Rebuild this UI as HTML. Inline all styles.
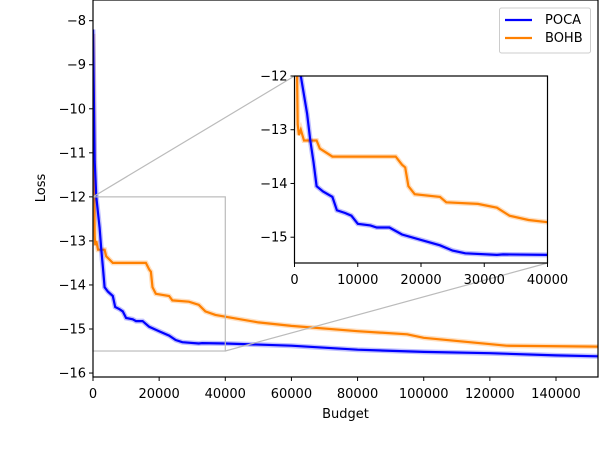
<!DOCTYPE html>
<html><head><meta charset="utf-8"><style>
body{margin:0;background:#fff;width:614px;height:454px;overflow:hidden}
svg text{font-family:"DejaVu Sans","Liberation Sans",sans-serif;font-size:13px;fill:#000}
</style></head><body>
<svg id="c" width="614" height="454"></svg>
<script>
const pocaX=[0,500,1000,2000,2500,3000,3500,4500,6000,6700,8000,9000,10000,12000,13000,15000,17000,20000,23000,25000,27000,32000,33000,40000,60000,80000,100000,120000,140000,152700];
const pocaY=[-8.2,-11.2,-12,-12.7,-13.2,-13.6,-14.05,-14.15,-14.25,-14.5,-14.55,-14.6,-14.75,-14.78,-14.82,-14.82,-14.95,-15.05,-15.15,-15.25,-15.3,-15.33,-15.32,-15.33,-15.38,-15.47,-15.52,-15.55,-15.6,-15.62];
const bohbX=[0,300,500,700,1000,1500,3500,4000,6000,16000,17000,17500,18000,19000,23000,24000,29000,32000,34000,37000,40000,50000,60000,80000,95000,100000,125000,152700];
const bohbY=[-8.3,-11,-12.9,-13.1,-13.0,-13.2,-13.2,-13.35,-13.5,-13.5,-13.65,-13.7,-14.05,-14.2,-14.25,-14.35,-14.38,-14.45,-14.6,-14.68,-14.72,-14.85,-14.93,-15.05,-15.12,-15.2,-15.38,-15.4];
const mainXTicks=[0,20000,40000,60000,80000,100000,120000,140000];
const mainYTicks=[-8,-9,-10,-11,-12,-13,-14,-15,-16];
const insetXTicks=[0,10000,20000,30000,40000];
const insetYTicks=[-12,-13,-14,-15];
const NS="http://www.w3.org/2000/svg",svg=document.getElementById('c');
function el(t,a,p){const e=document.createElementNS(NS,t);for(const k in a)e.setAttribute(k,a[k]);(p||svg).appendChild(e);return e;}
const M={x0:93,x1:598,y0:0,y1:377,xmin:0,xmax:152700,ymin:-16.09,ymax:-7.53};
const I={x0:294.5,x1:547.5,y0:76,y1:263,xmin:0,xmax:40000,ymin:-15.48,ymax:-12};
function sx(a,v){return a.x0+(v-a.xmin)/(a.xmax-a.xmin)*(a.x1-a.x0);}
function sy(a,v){return a.y1-(v-a.ymin)/(a.ymax-a.ymin)*(a.y1-a.y0);}
const defs=el('defs',{});
function clip(id,a){const c=el('clipPath',{id},defs);el('rect',{x:a.x0,y:a.y0,width:a.x1-a.x0,height:a.y1-a.y0},c);}
clip('cm',M);clip('ci',I);
function series(a,xs,ys,col,name,cid){
  let pts=xs.map((x,i)=>sx(a,x).toFixed(1)+','+sy(a,ys[i]).toFixed(1)).join(' ');
  const b=el('polyline',{points:pts,fill:'none',stroke:col,'stroke-opacity':0.25,'stroke-width':5,'clip-path':'url(#'+cid+')'});
  
  
  const l=el('polyline',{points:pts,fill:'none',stroke:col,'stroke-width':2.2,'clip-path':'url(#'+cid+')'});
  
  
}
function axes(a,xt,yt,pre){
  xt.forEach(t=>{const x=sx(a,t);el('line',{x1:x,x2:x,y1:a.y1,y2:a.y1+4,stroke:'#000'});
    const tx=el('text',{x:x,y:a.y1+21,'text-anchor':'middle'});tx.textContent=t;
    });
  yt.forEach(t=>{const y=sy(a,t);el('line',{x1:a.x0-4,x2:a.x0,y1:y,y2:y,stroke:'#000'});
    const tx=el('text',{x:a.x0-7,y:y+4.5,'text-anchor':'end'});tx.textContent='\u2212'+Math.abs(t);
    });
}
axes(M,mainXTicks,mainYTicks,'main');
series(M,bohbX,bohbY,'#ff8000','bohb','cm');
series(M,pocaX,pocaY,'#0000ff','poca','cm');
const zr=el('rect',{x:sx(M,0),y:sy(M,-12),width:sx(M,40000)-sx(M,0),height:sy(M,-15.5)-sy(M,-12),fill:'none',stroke:'#bbb','stroke-width':1.2});

el('line',{x1:sx(M,0),y1:sy(M,-12),x2:I.x0,y2:I.y0,stroke:'#bbb','stroke-width':1.2});
el('line',{x1:sx(M,40000),y1:sy(M,-15.5),x2:I.x1,y2:I.y1,stroke:'#bbb','stroke-width':1.2});
el('rect',{x:M.x0,y:M.y0,width:M.x1-M.x0,height:M.y1-M.y0,fill:'none',stroke:'#000','stroke-width':1.2});
el('rect',{x:I.x0,y:I.y0,width:I.x1-I.x0,height:I.y1-I.y0,fill:'#fff',stroke:'none'});
axes(I,insetXTicks,insetYTicks,'inset');
series(I,bohbX,bohbY,'#ff8000','inset-bohb','ci');
series(I,pocaX,pocaY,'#0000ff','inset-poca','ci');
el('rect',{x:I.x0,y:I.y0,width:I.x1-I.x0,height:I.y1-I.y0,fill:'none',stroke:'#000','stroke-width':1.2});
const xl=el('text',{x:(M.x0+M.x1)/2,y:418,'text-anchor':'middle'});xl.textContent='Budget';

const yl=el('text',{x:0,y:0,'text-anchor':'middle',transform:'translate(45,188) rotate(-90)'});yl.textContent='Loss';

const lg=el('g',{});
el('rect',{x:499.5,y:8,width:91,height:45,rx:2,fill:'#fff',stroke:'#ccc'},lg);
[['POCA','#0000ff',24],['BOHB','#ff8000',42]].forEach(([n,c,y])=>{
  const g=el('g',{},lg);
  el('line',{x1:505,x2:532,y1:y-4,y2:y-4,stroke:c,'stroke-width':2.2},g);
  const t=el('text',{x:545,y:y},g);t.textContent=n;});
</script>
</body></html>
